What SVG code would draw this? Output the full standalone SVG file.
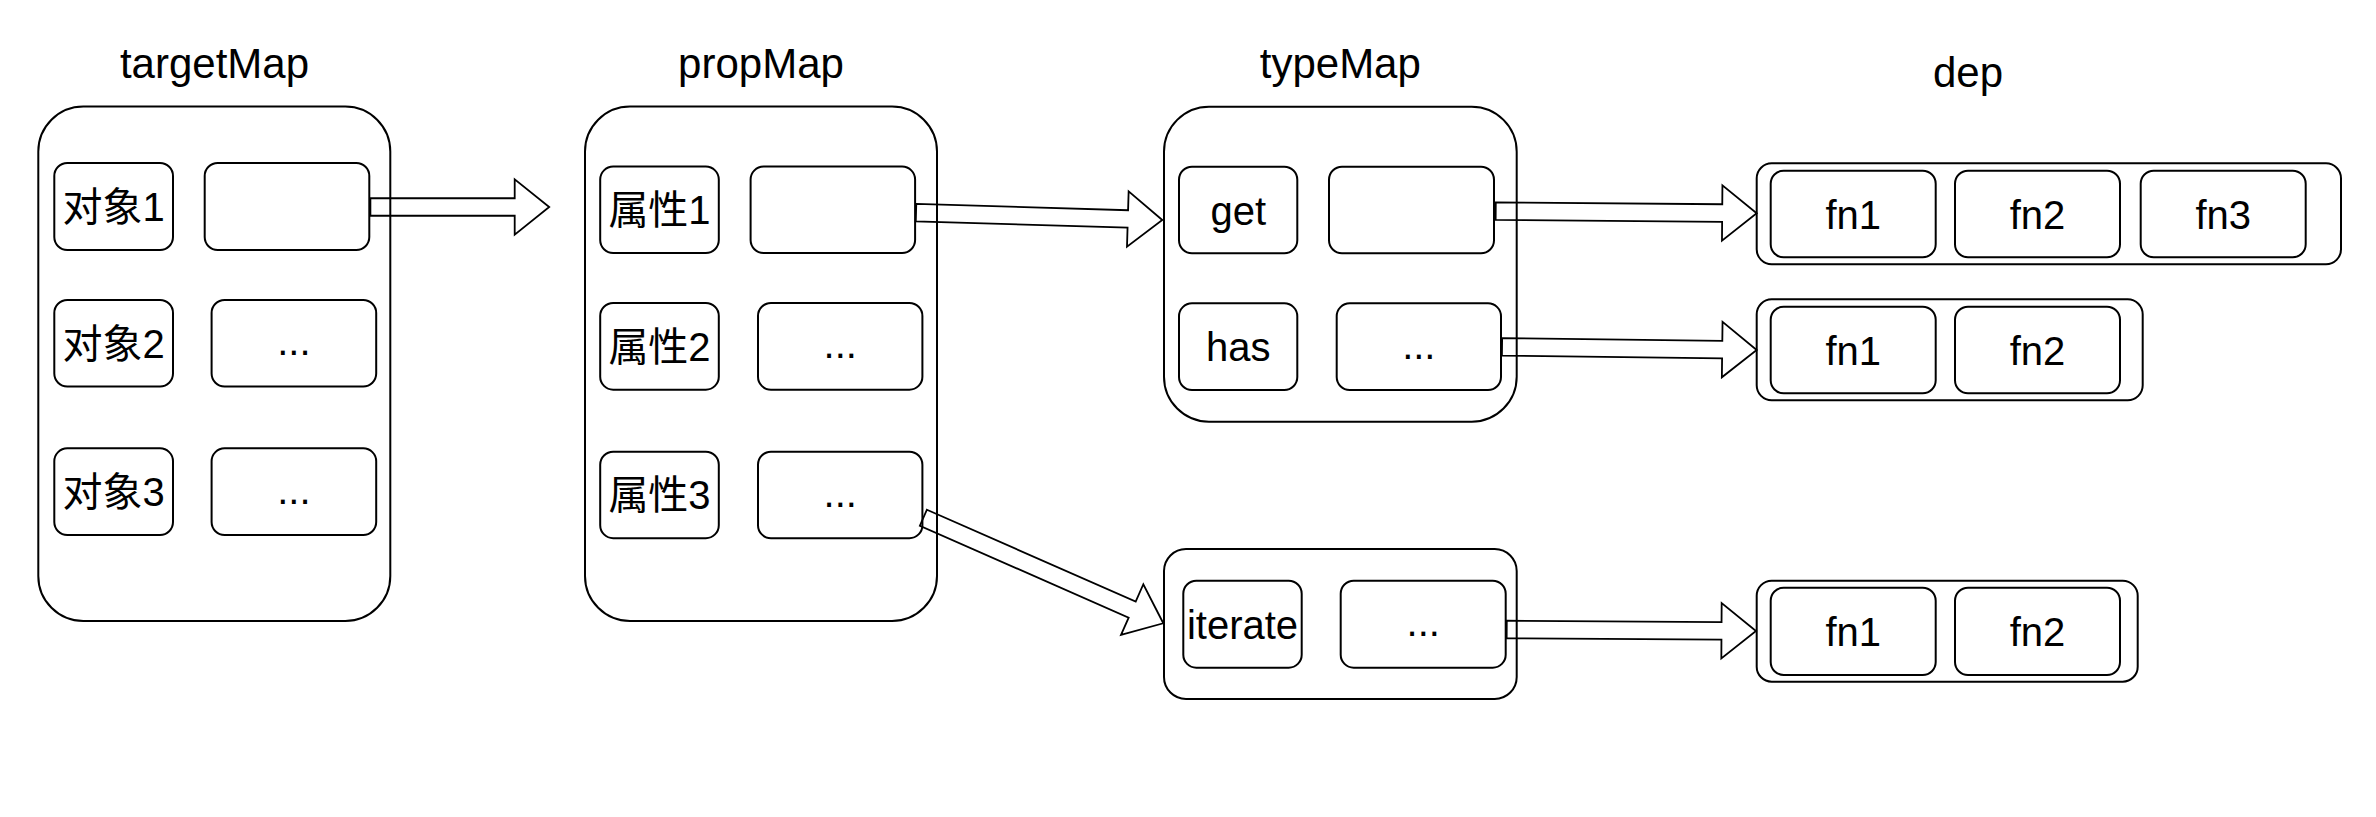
<svg xmlns="http://www.w3.org/2000/svg" width="2376" height="817" viewBox="0 0 2376 817">
<style>
.bg{fill:#fff}
.outer{fill:none;stroke:#000;stroke-width:2}
.box{fill:#fff;stroke:#000;stroke-width:2}
.t{font-family:"Liberation Sans","Noto Sans CJK SC",sans-serif;font-size:40px;fill:#000;text-anchor:middle}
.title{font-family:"Liberation Sans","Noto Sans CJK SC",sans-serif;font-size:42px;fill:#000;text-anchor:middle}
.arrow{fill:none;stroke:#000;stroke-width:1.8;stroke-linejoin:miter}
</style>
<rect class="bg" x="0" y="0" width="2376" height="817"/>

<g id="targetMap">
<text class="title" x="214.5" y="78">targetMap</text>
<rect class="outer" x="38.3" y="106.5" width="352" height="514.5" rx="45" ry="45"/>
<g id="target-k1"><rect class="box" x="54.3" y="163" width="118.7" height="87" rx="13"/><text class="t" x="113.6" y="221">对象1</text></g>
<g id="target-v1"><rect class="box" x="204.7" y="163" width="164.6" height="87" rx="13"/></g>
<g id="target-k2"><rect class="box" x="54.3" y="300" width="118.7" height="86.5" rx="13"/><text class="t" x="113.6" y="357.5">对象2</text></g>
<g id="target-v2"><rect class="box" x="211.6" y="300" width="164.6" height="86.5" rx="13"/><text class="t" x="293.9" y="355">...</text></g>
<g id="target-k3"><rect class="box" x="54.3" y="448.3" width="118.7" height="86.7" rx="13"/><text class="t" x="113.6" y="506">对象3</text></g>
<g id="target-v3"><rect class="box" x="211.6" y="448.3" width="164.6" height="86.7" rx="13"/><text class="t" x="293.9" y="503.5">...</text></g>
</g>

<g id="propMap">
<text class="title" x="761" y="78">propMap</text>
<rect class="outer" x="585" y="106.5" width="352" height="514.5" rx="45" ry="45"/>
<g id="prop-k1"><rect class="box" x="600.2" y="166.6" width="118.6" height="86.4" rx="13"/><text class="t" x="659.5" y="224">属性1</text></g>
<g id="prop-v1"><rect class="box" x="750.6" y="166.6" width="164.5" height="86.4" rx="13"/></g>
<g id="prop-k2"><rect class="box" x="600.2" y="303" width="118.6" height="86.7" rx="13"/><text class="t" x="659.5" y="360.5">属性2</text></g>
<g id="prop-v2"><rect class="box" x="758" y="303" width="164.4" height="86.7" rx="13"/><text class="t" x="840.2" y="358">...</text></g>
<g id="prop-k3"><rect class="box" x="600.2" y="451.7" width="118.6" height="86.5" rx="13"/><text class="t" x="659.5" y="509">属性3</text></g>
<g id="prop-v3"><rect class="box" x="758" y="451.7" width="164.4" height="86.5" rx="13"/><text class="t" x="840.2" y="506.5">...</text></g>
</g>

<g id="typeMap">
<text class="title" x="1340.3" y="78">typeMap</text>
<rect class="outer" x="1164" y="106.7" width="352.7" height="315" rx="45" ry="45"/>
<g id="type-get"><rect class="box" x="1179" y="166.7" width="118.3" height="86.6" rx="13"/><text class="t" x="1238.2" y="224.5">get</text></g>
<g id="type-get-v"><rect class="box" x="1329" y="166.7" width="165" height="86.6" rx="13"/></g>
<g id="type-has"><rect class="box" x="1179" y="303.3" width="118.3" height="86.7" rx="13"/><text class="t" x="1238.2" y="360.5">has</text></g>
<g id="type-has-v"><rect class="box" x="1336.7" y="303.3" width="164.3" height="86.7" rx="13"/><text class="t" x="1418.8" y="358.5">...</text></g>
</g>

<g id="typeMap2">
<rect class="outer" x="1164" y="549" width="352.7" height="150" rx="22" ry="22"/>
<g id="type-iterate"><rect class="box" x="1183.3" y="580.7" width="118.4" height="87" rx="13"/><text class="t" x="1242.5" y="639" font-size="41">iterate</text></g>
<g id="type-iterate-v"><rect class="box" x="1340.7" y="580.7" width="165" height="87" rx="13"/><text class="t" x="1423.2" y="636">...</text></g>
</g>

<g id="dep">
<text class="title" x="1968" y="87">dep</text>
</g>

<g id="dep1">
<rect class="outer" x="1756.7" y="163.3" width="584.3" height="101" rx="15" ry="15"/>
<g id="dep1-fn1"><rect class="box" x="1770.7" y="170.7" width="165" height="86.6" rx="13"/><text class="t" x="1853.2" y="229">fn1</text></g>
<g id="dep1-fn2"><rect class="box" x="1955" y="170.7" width="165" height="86.6" rx="13"/><text class="t" x="2037.5" y="229">fn2</text></g>
<g id="dep1-fn3"><rect class="box" x="2140.7" y="170.7" width="165" height="86.6" rx="13"/><text class="t" x="2223.2" y="229">fn3</text></g>
</g>

<g id="dep2">
<rect class="outer" x="1756.7" y="299.3" width="386" height="101" rx="15" ry="15"/>
<g id="dep2-fn1"><rect class="box" x="1770.7" y="306.7" width="165" height="86.6" rx="13"/><text class="t" x="1853.2" y="365">fn1</text></g>
<g id="dep2-fn2"><rect class="box" x="1955" y="306.7" width="165" height="86.6" rx="13"/><text class="t" x="2037.5" y="365">fn2</text></g>
</g>

<g id="dep3">
<rect class="outer" x="1756.7" y="580.7" width="381" height="101" rx="15" ry="15"/>
<g id="dep3-fn1"><rect class="box" x="1770.7" y="587.7" width="165" height="87.3" rx="13"/><text class="t" x="1853.2" y="646">fn1</text></g>
<g id="dep3-fn2"><rect class="box" x="1955" y="587.7" width="165" height="87.3" rx="13"/><text class="t" x="2037.5" y="646">fn2</text></g>
</g>

<g id="connectors">
<polygon class="arrow" transform="translate(549.2,207)" points="-178.8,-8.75 -34.5,-8.75 -34.5,-27.7 0,0 -34.5,27.7 -34.5,8.75 -178.8,8.75"/>
<polygon class="arrow" transform="translate(1162.3,220) rotate(1.7)" points="-246.4,-8.75 -34.5,-8.75 -34.5,-27.7 0,0 -34.5,27.7 -34.5,8.75 -246.4,8.75"/>
<polygon class="arrow" transform="translate(1163.3,623.3) rotate(23.75)" points="-262.1,-8.75 -34,-8.75 -34,-27.7 0,0 -34,27.7 -34,8.75 -262.1,8.75"/>
<polygon class="arrow" transform="translate(1756.7,213.3) rotate(0.46)" points="-261,-8.75 -34.5,-8.75 -34.5,-27.7 0,0 -34.5,27.7 -34.5,8.75 -261,8.75"/>
<polygon class="arrow" transform="translate(1756.7,350) rotate(0.72)" points="-254.7,-8.75 -34.5,-8.75 -34.5,-27.7 0,0 -34.5,27.7 -34.5,8.75 -254.7,8.75"/>
<polygon class="arrow" transform="translate(1756,631) rotate(0.34)" points="-249.3,-8.75 -34.5,-8.75 -34.5,-27.7 0,0 -34.5,27.7 -34.5,8.75 -249.3,8.75"/>
</g>
</svg>
